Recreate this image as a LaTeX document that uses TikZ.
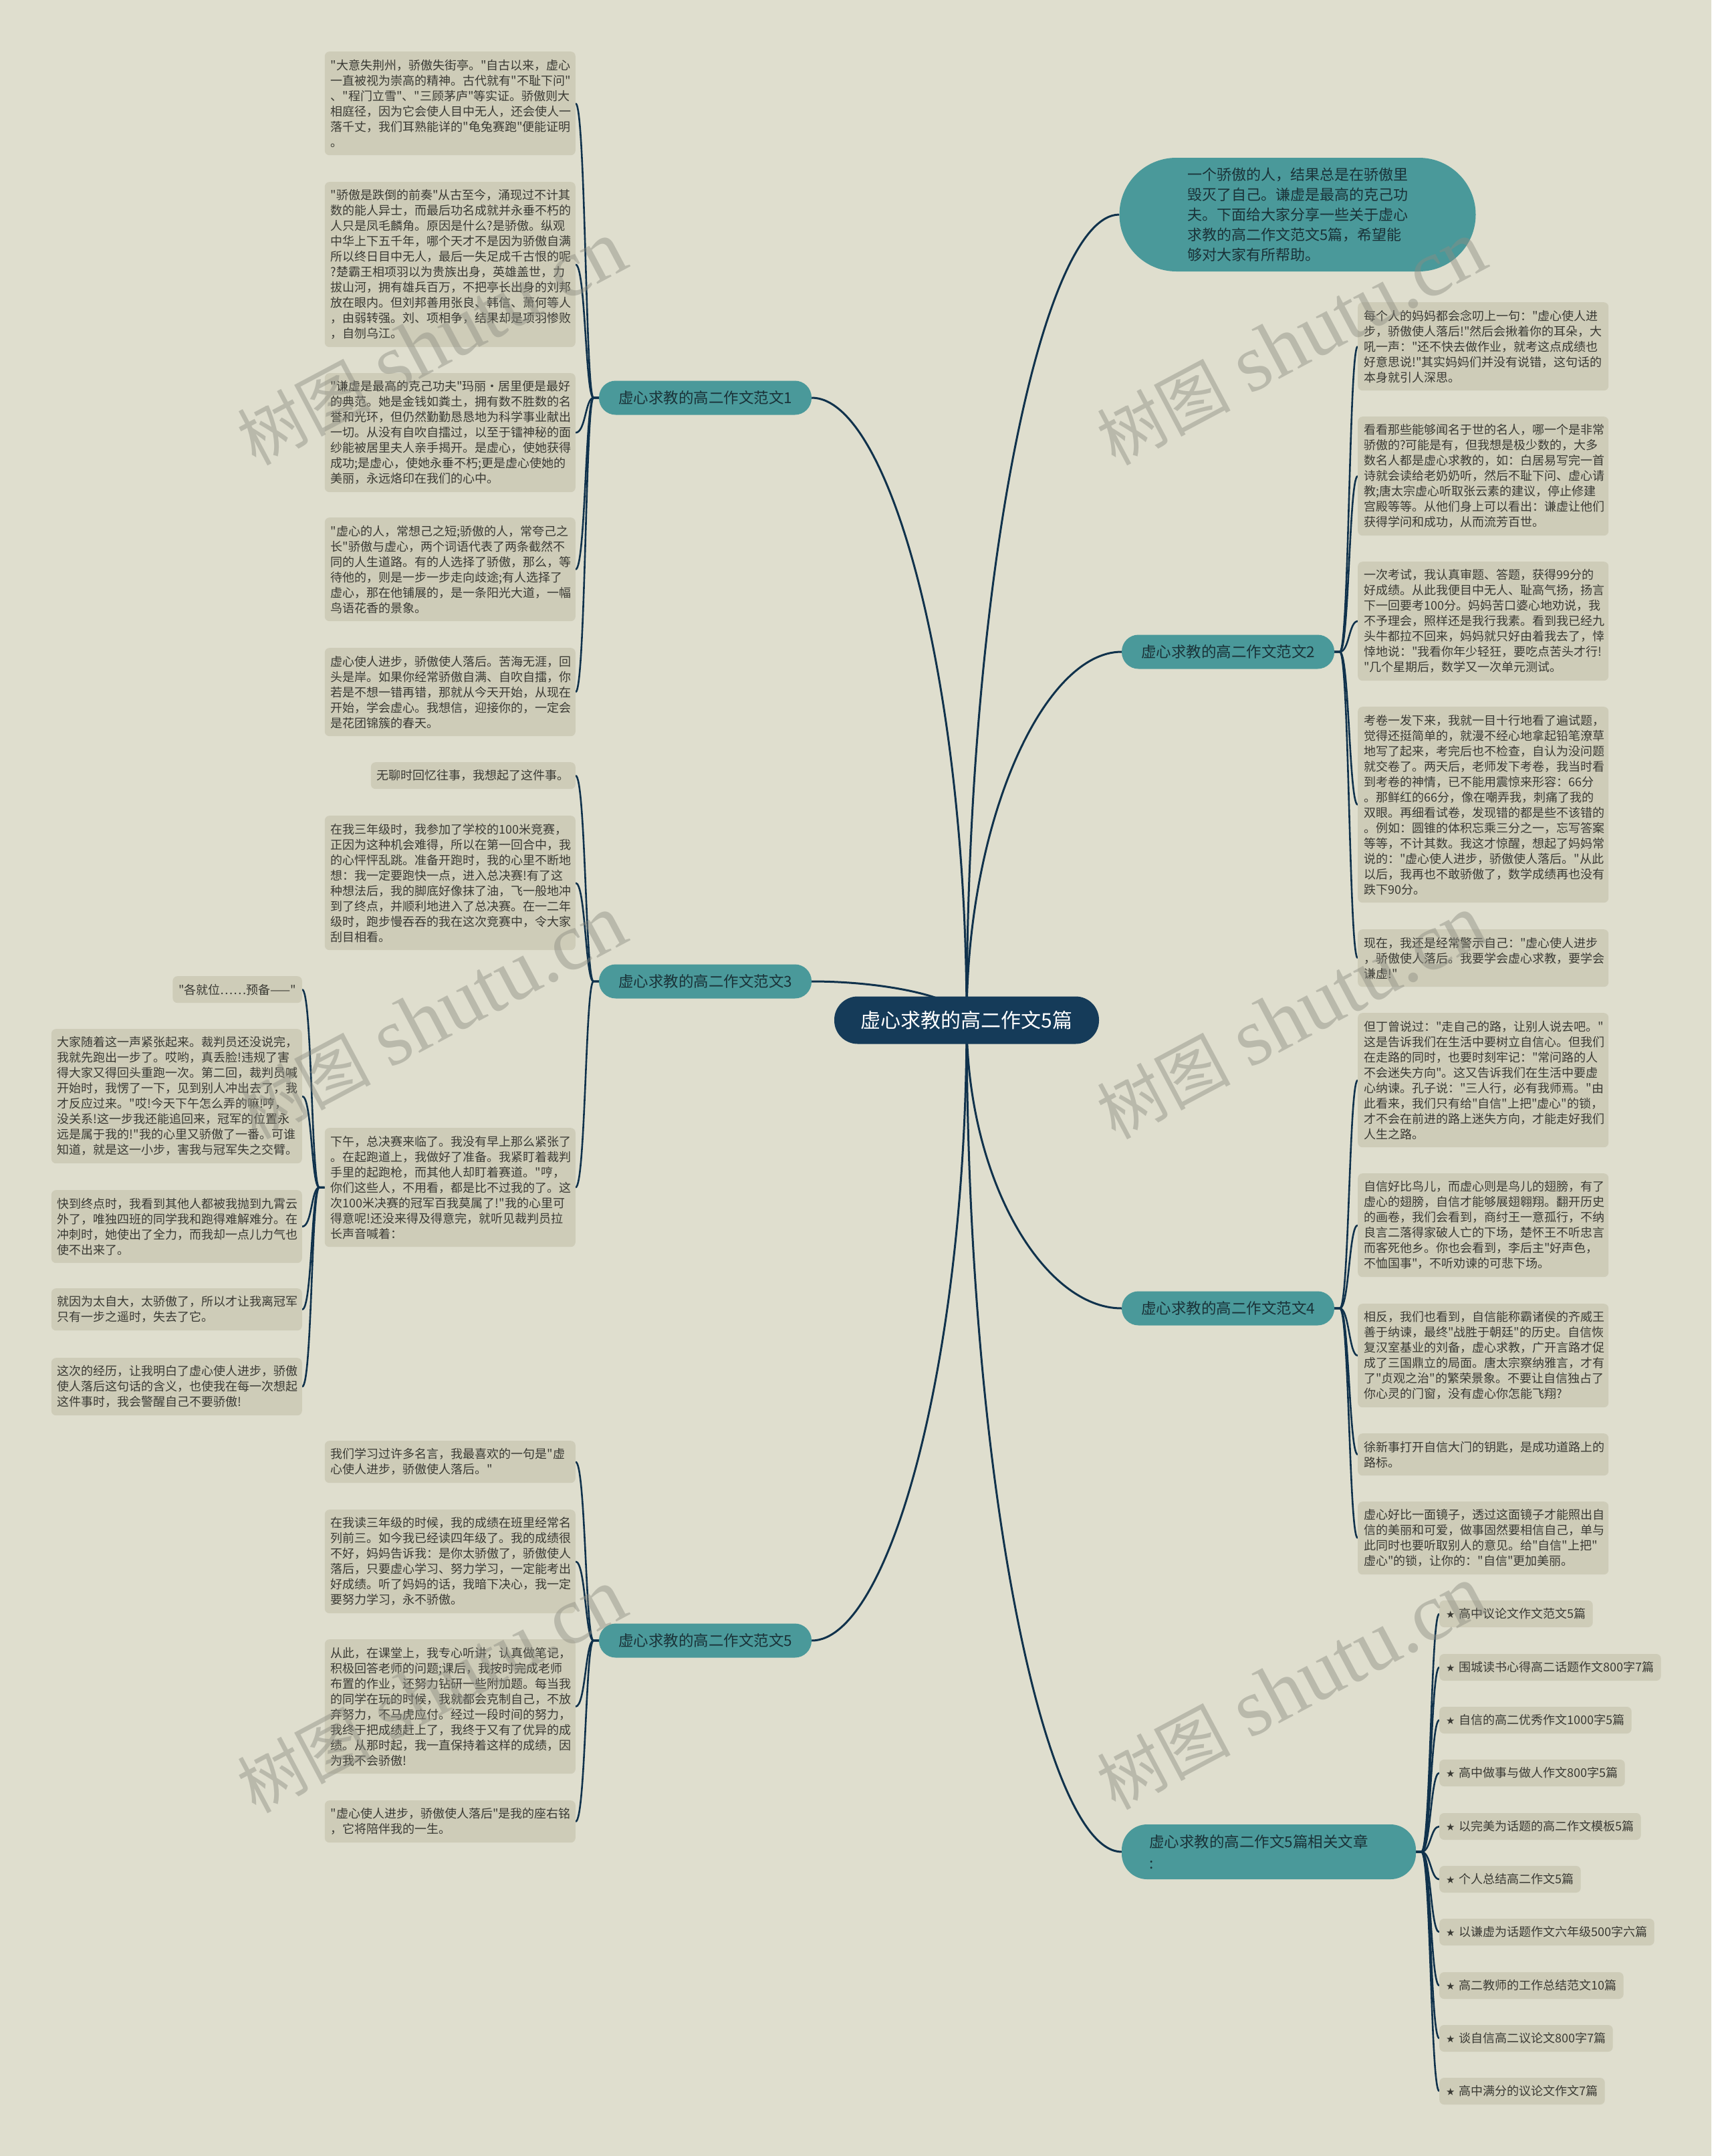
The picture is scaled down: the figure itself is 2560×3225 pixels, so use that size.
\documentclass[tikz,border=0pt]{standalone}
\usepackage{fontspec}
\newfontfamily\cjk{Noto Sans CJK SC}
\newfontfamily\symf{DejaVu Sans}
\newfontfamily\wmlat{Liberation Serif}
\usetikzlibrary{calc}
\definecolor{bgc}{RGB}{223,222,206}
\definecolor{leafc}{RGB}{206,204,184}
\definecolor{leaftext}{RGB}{58,58,52}
\definecolor{tealc}{RGB}{74,153,154}
\definecolor{branchtext}{RGB}{26,50,56}
\definecolor{centerc}{RGB}{21,59,89}
\definecolor{linec}{RGB}{16,50,76}
\definecolor{wmc}{RGB}{140,140,130}
\pgfdeclarelayer{back}
\pgfdeclarelayer{links}
\pgfdeclarelayer{front}
\pgfsetlayers{back,links,main,front}
\tikzset{
  leaf/.style={fill=leafc, rounded corners=7pt, inner xsep=9pt, inner ysep=0pt, align=left, text width=357pt, font=\cjk\fontsize{18}{23}\selectfont, text=leaftext},
  leafone/.style={fill=leafc, rounded corners=7pt, inner xsep=9pt, inner ysep=0pt, minimum height=40pt, font=\cjk\fontsize{18}{23}\selectfont, text=leaftext},
  branch/.style={fill=tealc, rounded corners=25pt, minimum width=318pt, minimum height=51pt, inner sep=0pt, font=\cjk\fontsize{22.5}{28}\selectfont, text=branchtext},
  link/.style={draw=linec, line width=2.6pt},
  mainlink/.style={draw=linec, line width=3pt},
  wm/.style={text=wmc, opacity=0.45, rotate=28, inner sep=0pt},
  lfan/.style={to path={-- ++(-8,0) .. controls +(-12,0) and +(15,0) .. (\tikztotarget)}},
  rfan/.style={to path={-- ++(8,0) .. controls +(14,0) and +(-13,0) .. (\tikztotarget)}}
}
\begin{document}
\begin{tikzpicture}[x=1pt,y=-1pt]
\begin{pgfonlayer}{back}
\fill[bgc] (0,0) rectangle (2560,3225);
\end{pgfonlayer}
\useasboundingbox (0,0) rectangle (2560,3225);

% center and branches
\node[fill=centerc, rounded corners=35pt, minimum width=396pt, minimum height=71pt, inner sep=0pt, text=white, font=\cjk\fontsize{30}{36}\selectfont] (c) at (1446,1526) {虚心求教的高二作文5篇};
\node[fill=tealc, rounded corners=85pt, minimum width=533pt, minimum height=170pt, inner sep=0pt, align=left, text=branchtext, font=\cjk\fontsize{22}{30}\selectfont] (bub) at (1941,321) {一个骄傲的人，结果总是在骄傲里\\毁灭了自己。谦虚是最高的克己功\\夫。下面给大家分享一些关于虚心\\求教的高二作文范文5篇，希望能\\够对大家有所帮助。};
\node[branch] (b1) at (1055,595) {虚心求教的高二作文范文1};
\node[branch] (b3) at (1055,1468) {虚心求教的高二作文范文3};
\node[branch] (b5) at (1055,2454) {虚心求教的高二作文范文5};
\node[branch] (b2) at (1837,975) {虚心求教的高二作文范文2};
\node[branch] (b4) at (1837,1957) {虚心求教的高二作文范文4};
\node[branch, minimum width=440pt, minimum height=82pt, rounded corners=38pt, inner xsep=41pt, text width=358pt, align=left, font=\cjk\fontsize{22.5}{32}\selectfont] (rel) at (1898,2770) {虚心求教的高二作文5篇相关文章\\:};

% fan 1
\node[leaf, minimum height=155pt, anchor=north east] (l11) at (861,77) {"大意失荆州，骄傲失街亭。"自古以来，虚心\\一直被视为崇高的精神。古代就有"不耻下问"\\、"程门立雪"、"三顾茅庐"等实证。骄傲则大\\相庭径，因为它会使人目中无人，还会使人一\\落千丈，我们耳熟能详的"龟兔赛跑"便能证明\\。};
\node[leaf, minimum height=247pt, anchor=north east] (l12) at (861,272) {"骄傲是跌倒的前奏"从古至今，涌现过不计其\\数的能人异士，而最后功名成就并永垂不朽的\\人只是凤毛麟角。原因是什么?是骄傲。纵观\\中华上下五千年，哪个天才不是因为骄傲自满\\所以终日目中无人，最后一失足成千古恨的呢\\?楚霸王相项羽以为贵族出身，英雄盖世，力\\拔山河，拥有雄兵百万，不把亭长出身的刘邦\\放在眼内。但刘邦善用张良、韩信、萧何等人\\，由弱转强。刘、项相争，结果却是项羽惨败\\，自刎乌江。};
\node[leaf, minimum height=178pt, anchor=north east] (l13) at (861,558) {"谦虚是最高的克己功夫"玛丽·居里便是最好\\的典范。她是金钱如粪土，拥有数不胜数的名\\誉和光环，但仍然勤勤恳恳地为科学事业献出\\一切。从没有自吹自擂过，以至于镭神秘的面\\纱能被居里夫人亲手揭开。是虚心，使她获得\\成功;是虚心，使她永垂不朽;更是虚心使她的\\美丽，永远烙印在我们的心中。};
\node[leaf, minimum height=155pt, anchor=north east] (l14) at (861,774) {"虚心的人，常想己之短;骄傲的人，常夸己之\\长"骄傲与虚心，两个词语代表了两条截然不\\同的人生道路。有的人选择了骄傲，那么，等\\待他的，则是一步一步走向歧途;有人选择了\\虚心，那在他铺展的，是一条阳光大道，一幅\\鸟语花香的景象。};
\node[leaf, minimum height=132pt, anchor=north east] (l15) at (861,969) {虚心使人进步，骄傲使人落后。苦海无涯，回\\头是岸。如果你经常骄傲自满、自吹自擂，你\\若是不想一错再错，那就从今天开始，从现在\\开始，学会虚心。我想信，迎接你的，一定会\\是花团锦簇的春天。};

% fan 3
\node[leafone, anchor=north east] (l31) at (861,1140) {无聊时回忆往事，我想起了这件事。};
\node[leaf, minimum height=201pt, anchor=north east] (l32) at (861,1220) {在我三年级时，我参加了学校的100米竞赛，\\正因为这种机会难得，所以在第一回合中，我\\的心怦怦乱跳。准备开跑时，我的心里不断地\\想：我一定要跑快一点，进入总决赛!有了这\\种想法后，我的脚底好像抹了油，飞一般地冲\\到了终点，并顺利地进入了总决赛。在一二年\\级时，跑步慢吞吞的我在这次竞赛中，令大家\\刮目相看。};
\node[leaf, minimum height=178pt, anchor=north east] (l33) at (861,1687) {下午，总决赛来临了。我没有早上那么紧张了\\。在起跑道上，我做好了准备。我紧盯着裁判\\手里的起跑枪，而其他人却盯着赛道。"哼，\\你们这些人，不用看，都是比不过我的了。这\\次100米决赛的冠军百我莫属了!"我的心里可\\得意呢!还没来得及得意完，就听见裁判员拉\\长声音喊着：};
\node[leafone, anchor=north east] (l331) at (452,1460) {"各就位……预备——"};
\node[leaf, minimum height=201pt, anchor=north east] (l332) at (452,1539) {大家随着这一声紧张起来。裁判员还没说完，\\我就先跑出一步了。哎哟，真丢脸!违规了害\\得大家又得回头重跑一次。第二回，裁判员喊\\开始时，我愣了一下，见到别人冲出去了，我\\才反应过来。"哎!今天下午怎么弄的嘛!哼，\\没关系!这一步我还能追回来，冠军的位置永\\远是属于我的!"我的心里又骄傲了一番。可谁\\知道，就是这一小步，害我与冠军失之交臂。};
\node[leaf, minimum height=109pt, anchor=north east] (l333) at (452,1780) {快到终点时，我看到其他人都被我抛到九霄云\\外了，唯独四班的同学我和跑得难解难分。在\\冲刺时，她使出了全力，而我却一点儿力气也\\使不出来了。};
\node[leaf, minimum height=63pt, anchor=north east] (l334) at (452,1927) {就因为太自大，太骄傲了，所以才让我离冠军\\只有一步之遥时，失去了它。};
\node[leaf, minimum height=86pt, anchor=north east] (l335) at (452,2031) {这次的经历，让我明白了虚心使人进步，骄傲\\使人落后这句话的含义，也使我在每一次想起\\这件事时，我会警醒自己不要骄傲!};

% fan 5
\node[leaf, minimum height=63pt, anchor=north east] (l51) at (861,2155) {我们学习过许多名言，我最喜欢的一句是"虚\\心使人进步，骄傲使人落后。"};
\node[leaf, minimum height=155pt, anchor=north east] (l52) at (861,2258) {在我读三年级的时候，我的成绩在班里经常名\\列前三。如今我已经读四年级了。我的成绩很\\不好，妈妈告诉我：是你太骄傲了，骄傲使人\\落后，只要虚心学习、努力学习，一定能考出\\好成绩。听了妈妈的话，我暗下决心，我一定\\要努力学习，永不骄傲。};
\node[leaf, minimum height=201pt, anchor=north east] (l53) at (861,2452) {从此，在课堂上，我专心听讲，认真做笔记，\\积极回答老师的问题;课后，我按时完成老师\\布置的作业，还努力钻研一些附加题。每当我\\的同学在玩的时候，我就都会克制自己，不放\\弃努力，不马虎应付。经过一段时间的努力，\\我终于把成绩赶上了，我终于又有了优异的成\\绩。从那时起，我一直保持着这样的成绩，因\\为我不会骄傲!};
\node[leaf, minimum height=63pt, anchor=north east] (l54) at (861,2693) {"虚心使人进步，骄傲使人落后"是我的座右铭\\，它将陪伴我的一生。};

% fan 2
\node[leaf, minimum height=132pt, anchor=north west] (r21) at (2031,452) {每个人的妈妈都会念叨上一句："虚心使人进\\步，骄傲使人落后!"然后会揪着你的耳朵，大\\吼一声："还不快去做作业，就考这点成绩也\\好意思说!"其实妈妈们并没有说错，这句话的\\本身就引人深思。};
\node[leaf, minimum height=178pt, anchor=north west] (r22) at (2031,623) {看看那些能够闻名于世的名人，哪一个是非常\\骄傲的?可能是有，但我想是极少数的，大多\\数名人都是虚心求教的，如：白居易写完一首\\诗就会读给老奶奶听，然后不耻下问、虚心请\\教;唐太宗虚心听取张云素的建议，停止修建\\宫殿等等。从他们身上可以看出：谦虚让他们\\获得学问和成功，从而流芳百世。};
\node[leaf, minimum height=178pt, anchor=north west] (r23) at (2031,840) {一次考试，我认真审题、答题，获得99分的\\好成绩。从此我便目中无人、耻高气扬，扬言\\下一回要考100分。妈妈苦口婆心地劝说，我\\不予理会，照样还是我行我素。看到我已经九\\头牛都拉不回来，妈妈就只好由着我去了，悻\\悻地说："我看你年少轻狂，要吃点苦头才行!\\"几个星期后，数学又一次单元测试。};
\node[leaf, minimum height=293pt, anchor=north west] (r24) at (2031,1057) {考卷一发下来，我就一目十行地看了遍试题，\\觉得还挺简单的，就漫不经心地拿起铅笔潦草\\地写了起来，考完后也不检查，自认为没问题\\就交卷了。两天后，老师发下考卷，我当时看\\到考卷的神情，已不能用震惊来形容：66分\\。那鲜红的66分，像在嘲弄我，刺痛了我的\\双眼。再细看试卷，发现错的都是些不该错的\\。例如：圆锥的体积忘乘三分之一，忘写答案\\等等，不计其数。我这才惊醒，想起了妈妈常\\说的："虚心使人进步，骄傲使人落后。"从此\\以后，我再也不敢骄傲了，数学成绩再也没有\\跌下90分。};
\node[leaf, minimum height=86pt, anchor=north west] (r25) at (2031,1390) {现在，我还是经常警示自己："虚心使人进步\\，骄傲使人落后。我要学会虚心求教，要学会\\谦虚!"};

% fan 4
\node[leaf, minimum height=201pt, anchor=north west] (r41) at (2031,1515) {但丁曾说过："走自己的路，让别人说去吧。"\\这是告诉我们在生活中要树立自信心。但我们\\在走路的同时，也要时刻牢记："常问路的人\\不会迷失方向"。这又告诉我们在生活中要虚\\心纳谏。孔子说："三人行，必有我师焉。"由\\此看来，我们只有给"自信"上把"虚心"的锁，\\才不会在前进的路上迷失方向，才能走好我们\\人生之路。};
\node[leaf, minimum height=155pt, anchor=north west] (r42) at (2031,1755) {自信好比鸟儿，而虚心则是鸟儿的翅膀，有了\\虚心的翅膀，自信才能够展翅翱翔。翻开历史\\的画卷，我们会看到，商纣王一意孤行，不纳\\良言二落得家破人亡的下场，楚怀王不听忠言\\而客死他乡。你也会看到，李后主"好声色，\\不恤国事"，不听劝谏的可悲下场。};
\node[leaf, minimum height=155pt, anchor=north west] (r43) at (2031,1950) {相反，我们也看到，自信能称霸诸侯的齐威王\\善于纳谏，最终"战胜于朝廷"的历史。自信恢\\复汉室基业的刘备，虚心求教，广开言路才促\\成了三国鼎立的局面。唐太宗察纳雅言，才有\\了"贞观之治"的繁荣景象。不要让自信独占了\\你心灵的门窗，没有虚心你怎能飞翔?};
\node[leaf, minimum height=63pt, anchor=north west] (r44) at (2031,2144) {徐新事打开自信大门的钥匙，是成功道路上的\\路标。};
\node[leaf, minimum height=109pt, anchor=north west] (r45) at (2031,2246) {虚心好比一面镜子，透过这面镜子才能照出自\\信的美丽和可爱，做事固然要相信自己，单与\\此同时也要听取别人的意见。给"自信"上把"\\虚心"的锁，让你的："自信"更加美丽。};

% related
\newcommand{\stary}{{\symf\fontsize{15}{18}\selectfont ★}\hspace{6pt}}
\node[leafone, inner xsep=10pt, anchor=west] (ri1) at (2153,2414) {\stary 高中议论文作文范文5篇};
\node[leafone, inner xsep=10pt, anchor=west] (ri2) at (2153,2494) {\stary 围城读书心得高二话题作文800字7篇};
\node[leafone, inner xsep=10pt, anchor=west] (ri3) at (2153,2573) {\stary 自信的高二优秀作文1000字5篇};
\node[leafone, inner xsep=10pt, anchor=west] (ri4) at (2153,2652) {\stary 高中做事与做人作文800字5篇};
\node[leafone, inner xsep=10pt, anchor=west] (ri5) at (2153,2732) {\stary 以完美为话题的高二作文模板5篇};
\node[leafone, inner xsep=10pt, anchor=west] (ri6) at (2153,2811) {\stary 个人总结高二作文5篇};
\node[leafone, inner xsep=10pt, anchor=west] (ri7) at (2153,2890) {\stary 以谦虚为话题作文六年级500字六篇};
\node[leafone, inner xsep=10pt, anchor=west] (ri8) at (2153,2970) {\stary 高二教师的工作总结范文10篇};
\node[leafone, inner xsep=10pt, anchor=west] (ri9) at (2153,3049) {\stary 谈自信高二议论文800字7篇};
\node[leafone, inner xsep=10pt, anchor=west] (ri10) at (2153,3128) {\stary 高中满分的议论文作文7篇};

\begin{pgfonlayer}{links}
% main links
\draw[mainlink] (bub.west) .. controls +(-115,0) and +(0,-660) .. (c.center);
\draw[mainlink] (b1.east) .. controls +(116,0) and +(0,-510) .. (c.center);
\draw[mainlink] (b3.east) .. controls +(116,0) and +(0,-32) .. (c.center);
\draw[mainlink] (b5.east) .. controls +(116,0) and +(0,510) .. (c.center);
\draw[mainlink] (b2.west) .. controls +(-116,0) and +(0,-300) .. (c.center);
\draw[mainlink] (b4.west) .. controls +(-116,0) and +(0,240) .. (c.center);
\draw[mainlink] (rel.west) .. controls +(-116,0) and +(0,680) .. (c.center);
% fans
\foreach \t in {l11,l12,l13,l14,l15} \draw[link] (b1.west) to[lfan] (\t.east);
\foreach \t in {l31,l32,l33} \draw[link] (b3.west) to[lfan] (\t.east);
\foreach \t in {l331,l332,l333,l334,l335} \draw[link] (l33.west) to[lfan] (\t.east);
\foreach \t in {l51,l52,l53,l54} \draw[link] (b5.west) to[lfan] (\t.east);
\foreach \t in {r21,r22,r23,r24,r25} \draw[link] (b2.east) to[rfan] (\t.west);
\foreach \t in {r41,r42,r43,r44,r45} \draw[link] (b4.east) to[rfan] (\t.west);
\foreach \t in {ri1,ri2,ri3,ri4,ri5,ri6,ri7,ri8,ri9,ri10} \draw[link] (rel.east) to[rfan] (\t.west);
\end{pgfonlayer}

% watermarks
\begin{pgfonlayer}{front}
\foreach \wx/\wy [count=\i] in {646/514, 646/1522, 646/2530, 1932/514, 1932/1522, 1932/2525}
  \node[wm] (wm\i) at (\wx,\wy) {{\cjk\fontsize{100}{110}\selectfont 树图}\hspace{28pt}{\wmlat\fontsize{122}{130}\selectfont shutu.cn}};
\end{pgfonlayer}
\end{tikzpicture}
\end{document}
